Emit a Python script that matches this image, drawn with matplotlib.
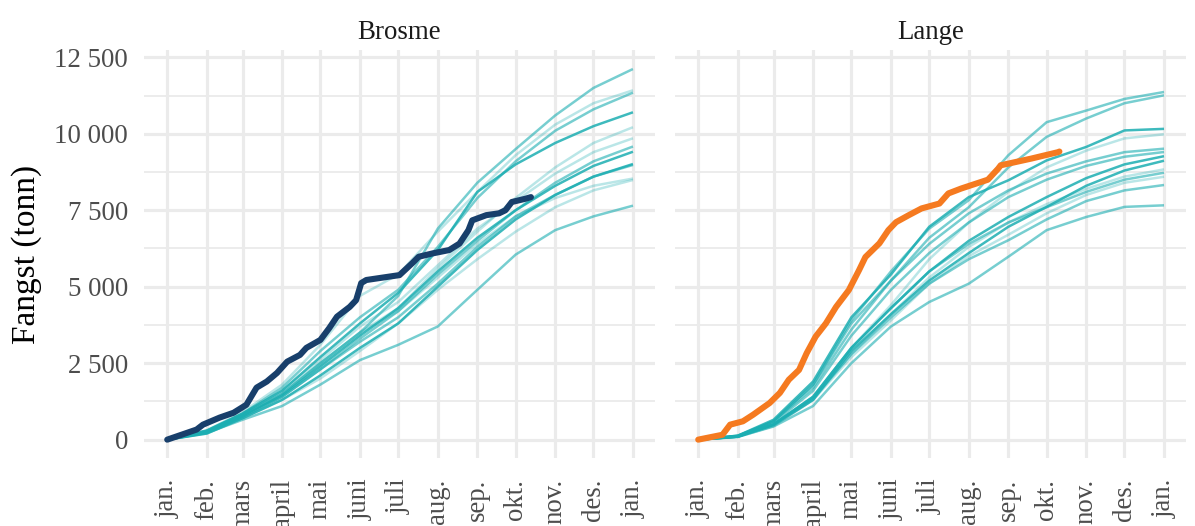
import matplotlib
matplotlib.use("Agg")
import matplotlib.pyplot as plt
from matplotlib.ticker import FuncFormatter, FixedLocator

# ---------------- data ----------------
month_days = [0, 31, 59, 90, 120, 151, 181, 212, 243, 273, 304, 334, 365]
month_labels = ["jan.", "feb.", "mars", "april", "mai", "juni", "juli",
                "aug.", "sep.", "okt.", "nov.", "des.", "jan."]

# day of year for the historical series values below
hist_days = [0, 31, 59, 90, 120, 151, 181, 212, 243, 273, 304, 334, 364]

# Brosme, earlier years (cumulative catch, tonnes)
brosme_2011 = [0, 250, 800, 1500, 2500, 3500, 4700, 6900, 8400, 9500, 10600, 11500, 12100]
brosme_2012 = [0, 280, 850, 1700, 2900, 4000, 4900, 6300, 7900, 9100, 10100, 10800, 11330]
brosme_2013 = [0, 300, 900, 1800, 3100, 4700, 5400, 6800, 8100, 9300, 10300, 11000, 11410]
brosme_2014 = [0, 300, 850, 1600, 2700, 3800, 4800, 6200, 8100, 9000, 9700, 10250, 10690]
brosme_2015 = [0, 260, 800, 1500, 2500, 3500, 4300, 5600, 6800, 7900, 8900, 9700, 10200]
brosme_2016 = [0, 280, 850, 1600, 2600, 3700, 4500, 5700, 6900, 7800, 8700, 9400, 9840]
brosme_2017 = [0, 230, 750, 1400, 2300, 3300, 4200, 5400, 6500, 7500, 8400, 9100, 9570]
brosme_2018 = [0, 250, 780, 1450, 2400, 3400, 4300, 5500, 6600, 7500, 8300, 8950, 9400]
brosme_2019 = [0, 200, 700, 1300, 2100, 3000, 3800, 5000, 6200, 7200, 8000, 8600, 9000]
brosme_2020 = [0, 230, 750, 1400, 2300, 3200, 4000, 5100, 6300, 7300, 8000, 8600, 8970]
brosme_2021 = [0, 260, 800, 1500, 2500, 3500, 4200, 5300, 6400, 7300, 7900, 8300, 8530]
brosme_2022 = [0, 200, 700, 1300, 2000, 2900, 3800, 4900, 5900, 6800, 7600, 8150, 8480]
brosme_2023 = [0, 220, 650, 1100, 1800, 2600, 3100, 3700, 4900, 6050, 6850, 7300, 7640]

# Lange, earlier years
lange_2011 = [0, 120, 600, 1800, 3900, 5500, 6900, 7830, 9300, 10380, 10760, 11140, 11360]
lange_2012 = [0, 120, 600, 1700, 3600, 5200, 6600, 7600, 8900, 9900, 10500, 11000, 11250]
lange_2013 = [0, 130, 650, 1900, 4000, 5400, 6960, 7930, 8480, 9130, 9570, 10110, 10160]
lange_2014 = [0, 100, 500, 1400, 3000, 4400, 5900, 7100, 8100, 8900, 9450, 9850, 9980]
lange_2015 = [0, 130, 600, 1800, 3800, 5200, 6400, 7400, 8150, 8700, 9100, 9400, 9510]
lange_2016 = [0, 110, 550, 1600, 3400, 4900, 6100, 7100, 7930, 8500, 8950, 9250, 9400]
lange_2017 = [0, 100, 500, 1400, 3000, 4300, 5500, 6500, 7280, 7930, 8550, 9000, 9260]
lange_2018 = [0, 100, 480, 1300, 2900, 4100, 5200, 6100, 6960, 7610, 8300, 8800, 9110]
lange_2019 = [0, 90, 450, 1300, 2800, 4100, 5300, 6300, 7100, 7700, 8200, 8600, 8830]
lange_2020 = [0, 100, 500, 1400, 3000, 4300, 5500, 6400, 7100, 7600, 8100, 8500, 8720]
lange_2021 = [0, 90, 450, 1300, 2700, 3900, 5100, 6000, 6700, 7400, 8000, 8400, 8590]
lange_2022 = [0, 110, 500, 1350, 2800, 4000, 5100, 5900, 6520, 7200, 7800, 8150, 8320]
lange_2023 = [0, 90, 430, 1100, 2500, 3700, 4500, 5100, 5980, 6850, 7280, 7610, 7660]

# current year (highlighted)
brosme_cur_days = [0, 23, 28, 41, 52, 62, 70, 78, 86, 94, 104, 109, 120, 127, 133,
                   143, 148, 152, 156, 182, 192, 197, 208, 221, 229, 236, 239, 250,
                   260, 265, 270, 281, 285]
brosme_cur = [0, 330, 490, 720, 880, 1140, 1700, 1900, 2180, 2550, 2770, 3000, 3260,
              3650, 4020, 4340, 4560, 5120, 5220, 5380, 5770, 5980, 6090, 6200, 6410,
              6850, 7170, 7340, 7400, 7500, 7770, 7880, 7930]
lange_cur_days = [0, 19, 25, 35, 43, 56, 64, 71, 79, 85, 92, 100, 108, 118, 126, 131,
                  142, 149, 155, 165, 175, 189, 196, 206, 227, 235, 237, 261, 282, 283]
lange_cur = [0, 160, 490, 600, 815, 1200, 1530, 1960, 2280, 2830, 3370, 3800, 4340,
             4890, 5540, 5970, 6420, 6850, 7110, 7340, 7560, 7720, 8050, 8210, 8500,
             8860, 8970, 9190, 9400, 9420]

# per-series opacity (as in the reference, some years are fainter)
hist_alpha = [0.6, 0.6, 0.3, 0.85, 0.3, 0.3, 0.6, 0.85, 0.85, 0.6, 0.3, 0.3, 0.6]
lange_alpha = [0.6, 0.6, 0.85, 0.3, 0.6, 0.6, 0.85, 0.85, 0.3, 0.6, 0.3, 0.6, 0.6]

panels = [
    ("Brosme",
     [brosme_2011, brosme_2012, brosme_2013, brosme_2014, brosme_2015, brosme_2016,
      brosme_2017, brosme_2018, brosme_2019, brosme_2020, brosme_2021, brosme_2022,
      brosme_2023], hist_alpha, brosme_cur_days, brosme_cur, "#183F6B"),
    ("Lange",
     [lange_2011, lange_2012, lange_2013, lange_2014, lange_2015, lange_2016,
      lange_2017, lange_2018, lange_2019, lange_2020, lange_2021, lange_2022,
      lange_2023], lange_alpha, lange_cur_days, lange_cur, "#F57A20"),
]

y_ticks = [0, 2500, 5000, 7500, 10000, 12500]
y_minor = [1250, 3750, 6250, 8750, 11250]

# ---------------- figure ----------------
plt.rcParams["font.family"] = ["Liberation Serif", "DejaVu Serif"]
W, H = 1195, 526
fig = plt.figure(figsize=(W / 100, H / 100), dpi=100)

teal = "#1CAEB2"
grid_c = "#EBEBEB"

lefts = [144, 675]
pw = 511
top_px, bot_px = 50, 458

for i, (name, series, alphas, cd, cv, ccol) in enumerate(panels):
    ax = fig.add_axes([lefts[i] / W, 1 - bot_px / H, pw / W, (bot_px - top_px) / H])
    ax.set_xlim(-18.2, 382.2)
    ax.set_ylim(-600, 12740)
    for s in ax.spines.values():
        s.set_visible(False)
    ax.set_facecolor("white")

    # grid
    for yv in y_minor:
        ax.axhline(yv, color=grid_c, lw=1.3, zorder=0)
    for yv in y_ticks:
        ax.axhline(yv, color=grid_c, lw=2.3, zorder=0)
    for xv in month_days:
        ax.axvline(xv, color=grid_c, lw=2.3, zorder=0)

    for vals, a in zip(series, alphas):
        ax.plot(hist_days, vals, color=teal, alpha=a, lw=1.8, zorder=2,
                solid_joinstyle="round")
    ax.plot(cd, cv, color=ccol, lw=4.4, zorder=3, solid_joinstyle="round",
            solid_capstyle="round")

    ax.xaxis.set_major_locator(FixedLocator(month_days))
    ax.set_xticklabels(month_labels, rotation=90, va="top", ha="center")
    ax.yaxis.set_major_locator(FixedLocator(y_ticks))
    ax.tick_params(axis="both", length=0, labelsize=19.4, labelcolor="#4D4D4D")
    ax.tick_params(axis="x", pad=15)
    ax.tick_params(axis="y", pad=11.5)
    if i == 0:
        ax.yaxis.set_major_formatter(
            FuncFormatter(lambda v, p: f"{v:,.0f}".replace(",", " ")))
        ax.set_ylabel("Fangst (tonn)", fontsize=24, color="black", labelpad=9)
    else:
        ax.set_yticklabels([])

    ax.set_title(name, fontsize=19.4, color="#1A1A1A", pad=8)

fig.savefig("out.png", dpi=100, facecolor="white")
